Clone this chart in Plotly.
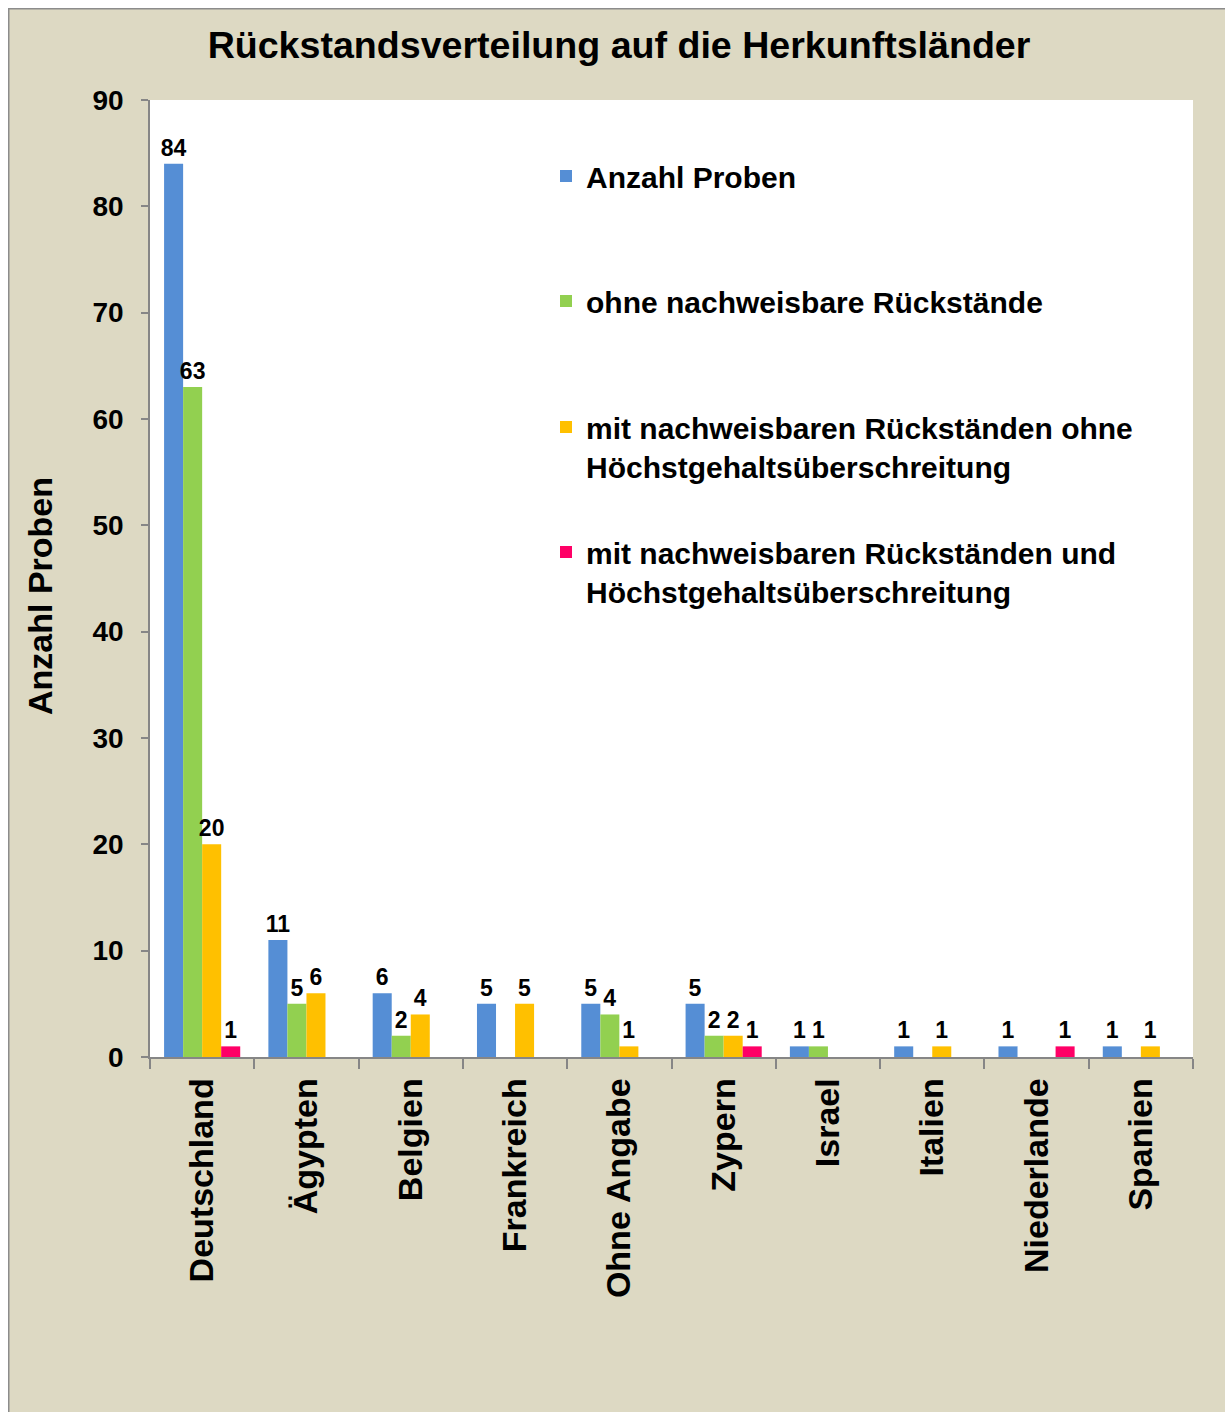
import plotly.graph_objects as go

categories = ["Deutschland", "Ägypten", "Belgien", "Frankreich", "Ohne Angabe",
              "Zypern", "Israel", "Italien", "Niederlande", "Spanien"]
anzahl_proben = [84, 11, 6, 5, 5, 5, 1, 1, 1, 1]
ohne_rueckstaende = [63, 5, 2, 0, 4, 2, 1, 0, 0, 0]
mit_ohne_ueberschreitung = [20, 6, 4, 5, 1, 2, 0, 1, 0, 1]
mit_ueberschreitung = [1, 0, 0, 0, 0, 1, 0, 0, 1, 0]

series_names = [
    "Anzahl Proben",
    "ohne nachweisbare Rückstände",
    "mit nachweisbaren Rückständen ohne<br>Höchstgehaltsüberschreitung",
    "mit nachweisbaren Rückständen und<br>Höchstgehaltsüberschreitung",
]
series_values = [anzahl_proben, ohne_rueckstaende, mit_ohne_ueberschreitung, mit_ueberschreitung]
colors = ["#558ED5", "#92D050", "#FFC000", "#FF0066"]
legend_ids = ["legend", "legend2", "legend3", "legend4"]

W, H = 1225, 1412
ML, MR, MT, MB = 150, 32, 100, 355
PW, PH = W - ML - MR, H - MT - MB
BG = "#DDD9C3"
AXIS = "#868686"
FONT = "Liberation Sans, Arial, sans-serif"


def px_x(px):
    return (px - ML) / PW


def px_y(py):
    return (H - MB - py) / PH


fig = go.Figure()
for name, vals, col, lg in zip(series_names, series_values, colors, legend_ids):
    fig.add_trace(go.Bar(
        x=categories,
        y=[v if v else None for v in vals],
        text=[str(v) if v else "" for v in vals],
        name=name,
        marker=dict(color=col, line=dict(width=0)),
        textposition="outside",
        textangle=0,
        constraintext="none",
        cliponaxis=False,
        textfont=dict(family="Liberation Sans Narrow, Liberation Sans, Arial",
                      size=23, color="black", weight="bold"),
        legend=lg,
        hoverinfo="skip",
    ))

legend_tops = [150, 275, 401, 526]
layout_legends = {}
for lg, top in zip(legend_ids, legend_tops):
    layout_legends[lg] = dict(
        x=px_x(546), y=px_y(top), xanchor="left", yanchor="top",
        bgcolor="rgba(0,0,0,0)", valign="top",
        font=dict(family=FONT, size=30, color="black", weight="bold"),
    )

fig.update_layout(
    width=W, height=H, autosize=False,
    margin=dict(l=ML, r=MR, t=MT, b=MB, pad=0),
    paper_bgcolor=BG, plot_bgcolor="white",
    barmode="group", bargap=0.27, bargroupgap=0,
    showlegend=True,
    title=dict(text="Rückstandsverteilung auf die Herkunftsländer",
               x=619 / W, xref="container", xanchor="center",
               y=1 - 45 / H, yanchor="middle",
               font=dict(family=FONT, size=37.6, color="black", weight="bold")),
    **layout_legends,
)

fig.update_yaxes(
    range=[0, 90], dtick=10, tick0=0,
    showgrid=False, zeroline=False,
    showline=True, linecolor=AXIS, linewidth=1.5,
    ticks="outside", ticklen=7, tickcolor=AXIS, tickwidth=1.5,
    ticklabelstandoff=12,
    tickfont=dict(family=FONT, size=28, color="black", weight="bold"),
)
fig.update_xaxes(
    showgrid=False, showline=True, linecolor=AXIS, linewidth=1.5,
    ticks="outside", ticklen=10, tickcolor=AXIS, tickwidth=1.5,
    tickson="boundaries", tickangle=-90,
    ticklabelstandoff=6,
    tickfont=dict(family=FONT, size=34, color="black", weight="bold"),
)

# y-axis title placed like the original (slightly below the plot centre)
fig.add_annotation(
    text="Anzahl Proben", textangle=-90, showarrow=False,
    xref="paper", yref="paper", x=px_x(40), y=px_y(596),
    xanchor="center", yanchor="middle",
    font=dict(family=FONT, size=34, color="black", weight="bold"),
)

# outer white strip and gray frame of the chart area
fig.add_shape(type="rect", xref="paper", yref="paper", layer="above",
              x0=px_x(-5), x1=px_x(8), y0=px_y(H + 10), y1=px_y(-10),
              fillcolor="white", line=dict(width=0))
fig.add_shape(type="rect", xref="paper", yref="paper", layer="above",
              x0=px_x(-5), x1=px_x(W + 10), y0=px_y(8), y1=px_y(-10),
              fillcolor="white", line=dict(width=0))
fig.add_shape(type="line", xref="paper", yref="paper", layer="above",
              x0=px_x(8.75), x1=px_x(8.75), y0=px_y(8), y1=px_y(H + 10),
              line=dict(color="#8C8C8C", width=1.5))
fig.add_shape(type="line", xref="paper", yref="paper", layer="above",
              x0=px_x(8), x1=px_x(W + 10), y0=px_y(8.75), y1=px_y(8.75),
              line=dict(color="#8C8C8C", width=1.5))

fig.write_html("out.html")
